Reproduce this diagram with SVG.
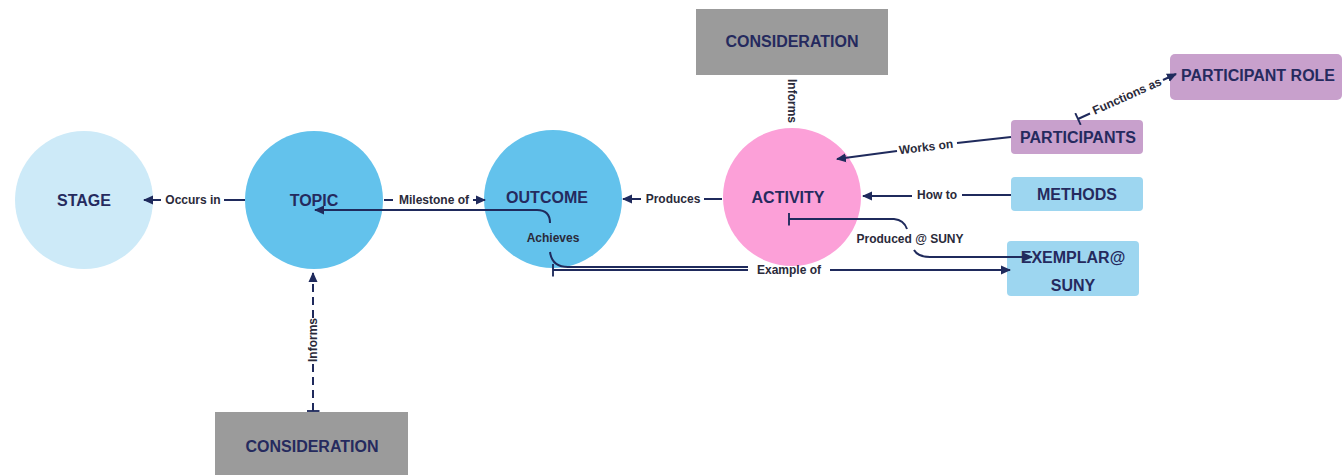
<svg xmlns="http://www.w3.org/2000/svg" width="1342" height="475" viewBox="0 0 1342 475">
<defs>
<style>
.node{font-family:"Liberation Sans",Arial,sans-serif;font-weight:bold;font-size:16px;fill:#252a5e;text-anchor:middle;dominant-baseline:central}
.lbl{font-family:"Liberation Sans",Arial,sans-serif;font-weight:bold;font-size:12px;fill:#2a2a3a;text-anchor:middle;dominant-baseline:central}
.ln{fill:none;stroke:#1f2a5c;stroke-width:2}
</style>
<marker id="arr" viewBox="0 0 10 10" refX="9" refY="5" markerWidth="10" markerHeight="10" markerUnits="userSpaceOnUse" orient="auto"><path d="M0,0.5 L10,5 L0,9.5 z" fill="#1f2a5c"/></marker>
<marker id="tee" viewBox="0 0 4 14" refX="2" refY="7" markerWidth="4" markerHeight="13" markerUnits="userSpaceOnUse" orient="auto"><rect x="1" y="0" width="2" height="14" fill="#1f2a5c"/></marker>
</defs>
<rect width="1342" height="475" fill="#ffffff"/>

<g id="stage"><circle cx="84" cy="200" r="69" fill="#cdeaf8"/><text class="node" x="84" y="200">STAGE</text></g>
<g id="topic"><circle cx="314" cy="200" r="69" fill="#63c2ec"/><text class="node" x="314" y="200">TOPIC</text></g>
<g id="outcome"><circle cx="553" cy="199" r="69" fill="#63c2ec"/><text class="node" x="547" y="197">OUTCOME</text></g>
<g id="activity"><circle cx="792" cy="197" r="69" fill="#fca0d8"/><text class="node" x="788" y="197">ACTIVITY</text></g>
<g id="consideration-top"><rect x="696" y="9" width="192" height="66" fill="#9b9b9b"/><text class="node" x="792" y="41">CONSIDERATION</text></g>
<g id="consideration-bottom"><rect x="215" y="412" width="193" height="63" fill="#9b9b9b"/><text class="node" x="312" y="446">CONSIDERATION</text></g>
<g id="participant-role"><rect x="1170" y="54" width="172" height="46" rx="5" fill="#c8a0cc"/><text class="node" x="1258" y="75">PARTICIPANT ROLE</text></g>
<g id="participants"><rect x="1011" y="120" width="132" height="34" rx="4" fill="#c8a0cc"/><text class="node" x="1078" y="137">PARTICIPANTS</text></g>
<g id="methods"><rect x="1011" y="177" width="132" height="34" rx="4" fill="#9dd6f0"/><text class="node" x="1077" y="194">METHODS</text></g>
<g id="exemplar"><rect x="1007" y="241" width="132" height="55" rx="4" fill="#9dd6f0"/><text class="node" x="1073" y="257">EXEMPLAR@</text><text class="node" x="1073" y="285">SUNY</text></g>

<g id="connectors">
<!-- Occurs in -->
<path class="ln" d="M245,200 L224,200"/>
<path class="ln" d="M161,200 L144,200" marker-end="url(#arr)"/>
<text class="lbl" x="193" y="200">Occurs in</text>
<!-- Milestone of -->
<path class="ln" d="M384,200 L393,200"/>
<path class="ln" d="M473,200 L485,200" marker-end="url(#arr)"/>
<text class="lbl" x="434" y="200">Milestone of</text>
<!-- Achieves -->
<path class="ln" d="M550,223 Q550,210 537,210 L315,210" marker-end="url(#arr)"/>
<path class="ln" d="M550,252 Q552,267 568,267 L748,267"/>
<text class="lbl" x="553" y="238">Achieves</text>
<!-- Example of -->
<path class="ln" d="M553,270 L748,270" marker-start="url(#tee)"/>
<path class="ln" d="M830,270 L1010,270" marker-end="url(#arr)"/>
<text class="lbl" x="789" y="270">Example of</text>
<!-- Produces -->
<path class="ln" d="M722,199 L704,199"/>
<path class="ln" d="M641,199 L623,199" marker-end="url(#arr)"/>
<text class="lbl" x="673" y="199">Produces</text>
<!-- How to -->
<path class="ln" d="M1011,195 L962,195"/>
<path class="ln" d="M912,196 L863,196" marker-end="url(#arr)"/>
<text class="lbl" x="937" y="195">How to</text>
<!-- Works on -->
<path class="ln" d="M1011,137 L957,143"/>
<path class="ln" d="M897,151 L837,159" marker-end="url(#arr)"/>
<text class="lbl" x="926" y="147" transform="rotate(-7 926 147)">Works on</text>
<!-- Functions as -->
<path class="ln" d="M1078,119 L1090,113.5" marker-start="url(#tee)"/>
<path class="ln" d="M1163,80 L1176,74" marker-end="url(#arr)"/>
<text class="lbl" x="1127" y="96" transform="rotate(-24 1127 96)">Functions as</text>
<!-- Produced @ SUNY -->
<path class="ln" d="M789,219 L894,219 Q904,220 907,229" marker-start="url(#tee)"/>
<path class="ln" d="M914,250 Q918,257 930,257 L1032,257" marker-end="url(#arr)"/>
<text class="lbl" x="910" y="239">Produced @ SUNY</text>
<!-- Informs top -->
<text class="lbl" x="792" y="101" transform="rotate(90 792 101)">Informs</text>
<!-- Informs bottom -->
<path class="ln" d="M313,411 L313,362" stroke-dasharray="8,5" marker-start="url(#tee)"/>
<path class="ln" d="M313,318 L313,273" stroke-dasharray="8,5" marker-end="url(#arr)"/>
<text class="lbl" x="313" y="340" transform="rotate(-90 313 340)">Informs</text>
</g>
</svg>
